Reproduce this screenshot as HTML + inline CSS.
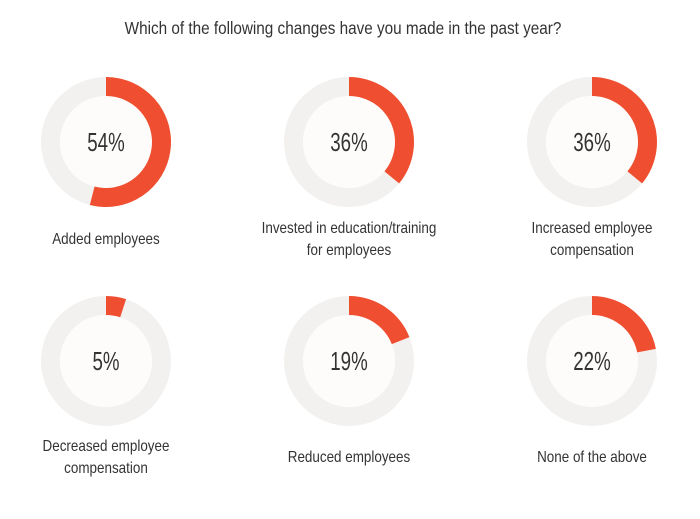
<!DOCTYPE html>
<html><head><meta charset="utf-8"><style>
body{margin:0;background:#fff;width:700px;height:514px;overflow:hidden}
svg text{font-family:"Liberation Sans",sans-serif;fill:#333}
</style></head><body>
<svg id="c" width="700" height="514">
<text x="343" y="34" text-anchor="middle" font-size="18" transform="translate(343,0) scale(0.85,1) translate(-343,0)">Which of the following changes have you made in the past year?</text>
</svg>
<script>
const labels=[["Added employees"],["Invested in education/training","for employees"],["Increased employee","compensation"],["Decreased employee","compensation"],["Reduced employees"],["None of the above"]];
const values=[54,36,36,5,19,22];
const cols=[106,349,592],rows=[142,361],labelY=[239,457];
const R=65,r=46,NS="http://www.w3.org/2000/svg",svg=document.getElementById('c');
function mk(t,a){const e=document.createElementNS(NS,t);for(const k in a)e.setAttribute(k,a[k]);svg.appendChild(e);return e;}
function pt(cx,cy,rad,f){const a=f*2*Math.PI;return [cx+rad*Math.sin(a),cy-rad*Math.cos(a)];}
values.forEach((v,i)=>{
 const cx=cols[i%3],cy=rows[Math.floor(i/3)];
 const bg=mk('circle',{cx:cx,cy:cy,r:(R+r)/2,fill:'none',stroke:'#f2f1ef','stroke-width':R-r});
 
 
 const inner=mk('circle',{cx:cx,cy:cy,r:r,fill:'#fdfcfb'});
 
 
 const f=v/100,large=f>0.5?1:0;
 const [x1,y1]=pt(cx,cy,R,0),[x2,y2]=pt(cx,cy,R,f),[x3,y3]=pt(cx,cy,r,f),[x4,y4]=pt(cx,cy,r,0);
 const p=mk('path',{d:`M${x1},${y1}A${R},${R} 0 ${large} 1 ${x2},${y2}L${x3},${y3}A${r},${r} 0 ${large} 0 ${x4},${y4}Z`,fill:'#f04e30'});
 
 
 const t=mk('text',{x:cx,y:cy+9,'text-anchor':'middle','font-size':26,fill:'#333',transform:`translate(${cx},0) scale(0.72,1) translate(${-cx},0)`});
 t.textContent=v+'%';
 
 
 const L=labels[i],ly=labelY[Math.floor(i/3)];
 L.forEach((s,j)=>{
  const tt=mk('text',{x:cx,y:ly+5+(j-(L.length-1)/2)*22,'text-anchor':'middle','font-size':16,transform:`translate(${cx},0) scale(0.84,1) translate(${-cx},0)`});
  tt.textContent=s;
  
  
 });
});
</script>
</body></html>
